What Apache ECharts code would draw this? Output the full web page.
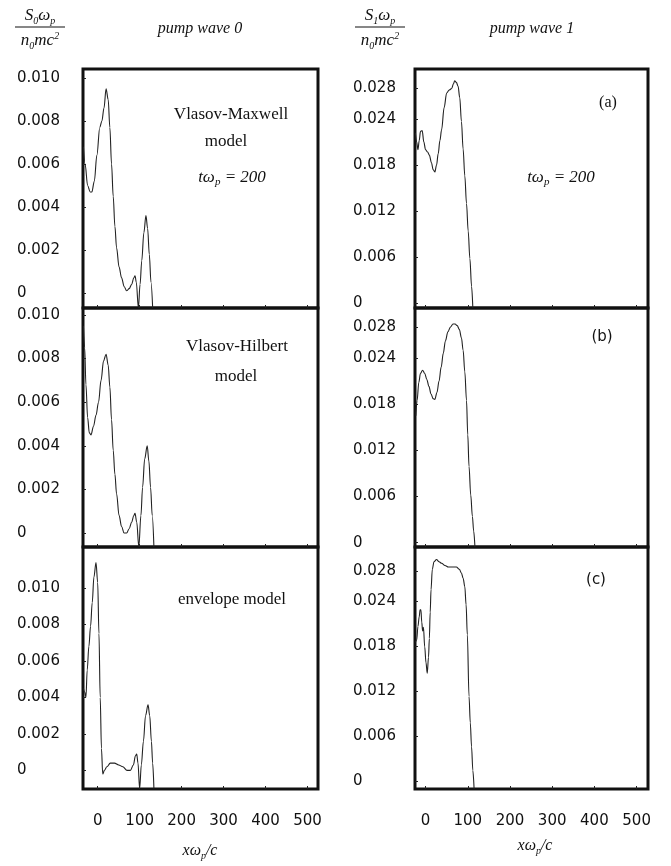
<!DOCTYPE html>
<html><head><meta charset="utf-8">
<script src="https://cdn.jsdelivr.net/npm/echarts@6/dist/echarts.min.js"></script>
<style>html,body{margin:0;padding:0;background:#fff}#c{width:671px;height:866px}</style>
</head><body><div id="c"></div>
<script>
// ---- data ----
// left column: S0 (pump wave 0)
const xL1 = [-34,-30,-24,-18,-14,-8,-2,5,10,15,20,25,29,33,37,41,45,51,57,63,69,75,81,86,89,92,97,101,105,110,115,119,123,127,131];
const yL1 = [0.0068,0.0060,0.0050,0.0047,0.0047,0.0052,0.0064,0.0077,0.0080,0.0086,0.0095,0.0090,0.0077,0.0060,0.0045,0.0031,0.0021,0.0012,0.0007,0.0003,0.0001,0.0002,0.0004,0.0007,0.0008,0.0005,-0.0007,0.0004,0.0015,0.0028,0.0036,0.0030,0.0018,0.0005,-0.0007];
const xL2 = [-34,-31,-28,-24,-20,-16,-10,-4,2,8,14,20,25,29,33,37,41,45,51,57,63,69,75,81,86,89,93,98,103,107,112,118,122,126,130,134];
const yL2 = [0.0095,0.0085,0.0068,0.0053,0.0046,0.0045,0.0049,0.0054,0.0060,0.0070,0.0079,0.0082,0.0077,0.0067,0.0052,0.0038,0.0027,0.0018,0.0008,0.0003,0.0000,0.0000,0.0002,0.0005,0.0008,0.0009,0.0005,-0.00064,0.0008,0.0021,0.0034,0.0040,0.0033,0.0021,0.0008,-0.00064];
const xL3 = [-34,-31,-28,-25,-21,-17,-13,-9,-4,0,3,6,9,12,16,22,30,40,50,60,70,78,85,90,93,96,100,104,109,114,120,124,128,131,134];
const yL3 = [0.0045,0.0043,0.0040,0.0055,0.0068,0.0079,0.0092,0.0106,0.0114,0.0103,0.0075,0.0040,0.0012,-0.0002,0.0000,0.0002,0.0004,0.0004,0.0003,0.0002,0.0000,0.0000,0.0003,0.0008,0.0009,0.0004,-0.001,0.0003,0.0016,0.0030,0.0036,0.0030,0.0016,0.0004,-0.001];
// right column: S1 (pump wave 1)
const xR1 = [-24,-21,-18,-15,-12,-8,-4,0,5,9,14,18,22,26,30,34,38,44,50,56,62,66,69,73,77,81,85,89,93,97,101,105,109,112];
const yR1 = [0.0222,0.0210,0.0200,0.0212,0.0224,0.0225,0.0210,0.0200,0.0197,0.0193,0.0183,0.0174,0.0171,0.0180,0.0195,0.0212,0.0226,0.0255,0.0274,0.0278,0.0280,0.0286,0.0290,0.0288,0.0283,0.0268,0.0237,0.0201,0.0166,0.0130,0.0094,0.0058,0.0022,-0.00065];
const xR2 = [-23,-20,-16,-12,-7,-2,3,8,13,18,22,27,32,37,42,47,53,59,65,70,75,80,85,89,93,97,100,103,107,111,114,117];
const yR2 = [0.0165,0.0185,0.0208,0.0220,0.0224,0.0220,0.0212,0.0203,0.0193,0.0187,0.0186,0.0195,0.0210,0.0228,0.0246,0.0262,0.0274,0.0280,0.0284,0.0284,0.0282,0.0277,0.0266,0.0250,0.0222,0.0185,0.0140,0.0099,0.0062,0.0034,0.0015,-0.00057];
const xR3 = [-24,-21,-18,-15,-13,-11,-9,-7,-5,-2,1,4,7,9,11,13,16,20,26,32,38,46,54,64,73,80,85,89,93,96,99,103,106,109,112,115];
const yR3 = [0.0185,0.0188,0.0206,0.0219,0.0228,0.0228,0.0212,0.0200,0.0205,0.0179,0.0158,0.0144,0.0165,0.0190,0.0225,0.0255,0.0282,0.0292,0.0295,0.0292,0.0290,0.0287,0.0285,0.0285,0.0285,0.0282,0.0277,0.0270,0.0259,0.0235,0.0195,0.0113,0.0078,0.0046,0.0015,-0.001];

const xTicks = [0,100,200,300,400,500];
const yTicksLeft = [0,0.002,0.004,0.006,0.008,0.010];
const yTicksRight = [0,0.006,0.012,0.018,0.024,0.028];

// ---- layout ----
const rows = [{top:69,height:239},{top:308,height:239},{top:547,height:242}];
const cols = [{left:83,width:235,xmin:-35,xmax:525,margin:66,ticks:yTicksLeft},
              {left:415,width:233,xmin:-25,xmax:527,margin:62,ticks:yTicksRight}];
const yRanges = [[-0.0007,0.01042],[-0.00064,0.01032],[-0.00102,0.01225],
                 [-0.00065,0.03054],[-0.00057,0.03048],[-0.001,0.03116]];
const seriesData = [[xL1,yL1],[xL2,yL2],[xL3,yL3],[xR1,yR1],[xR2,yR2],[xR3,yR3]];

const grids=[], xAxes=[], yAxes=[], series=[];
for (let c=0;c<2;c++){
  for (let r=0;r<3;r++){
    const i=c*3+r, col=cols[c], row=rows[r];
    grids.push({left:col.left,width:col.width,top:row.top,height:row.height,show:true,
      borderColor:'#111',borderWidth:3,backgroundColor:'transparent'});
    xAxes.push({gridIndex:i,type:'value',min:col.xmin,max:col.xmax,position:'bottom',
      axisLine:{show:false,onZero:false},splitLine:{show:false},
      axisTick:{show:true,inside:true,length:3,customValues:xTicks,lineStyle:{color:'#222'}},
      axisLabel:{show:r===2,customValues:xTicks,margin:25,fontSize:15,color:'#111',
        fontFamily:'DejaVu Sans'}});
    yAxes.push({gridIndex:i,type:'value',min:yRanges[i][0],max:yRanges[i][1],position:'left',
      axisLine:{show:false,onZero:false},splitLine:{show:false},
      axisTick:{show:true,inside:true,length:3,customValues:col.ticks,lineStyle:{color:'#222'}},
      axisLabel:{customValues:col.ticks,align:'left',margin:col.margin,fontSize:15,color:'#111',
        fontFamily:'DejaVu Sans',formatter:v=>v===0?'0':v.toFixed(3)}});
    const [xs,ys]=seriesData[i];
    series.push({type:'line',xAxisIndex:i,yAxisIndex:i,showSymbol:false,smooth:0.35,
      smoothMonotone:'x',silent:true,
      lineStyle:{color:'#222',width:1.1},data:xs.map((x,k)=>[x,ys[k]])});
  }
}

const serif='Liberation Serif, DejaVu Serif, serif';
function txt(x,y,text,opts){
  return Object.assign({type:'text',x:x,y:y,silent:true,
    style:Object.assign({text:text,fill:'#111',font:'17px '+serif,textAlign:'center',textVerticalAlign:'middle'},opts||{})});
}
const richSub = {
  m:{fontSize:17,fontFamily:serif,fontStyle:'italic',lineHeight:20,fill:'#111'},
  s:{fontSize:10,fontFamily:serif,fontStyle:'italic',lineHeight:10,verticalAlign:'bottom',fill:'#111'},
  u:{fontSize:10,fontFamily:serif,fontStyle:'italic',lineHeight:10,verticalAlign:'top',fill:'#111'}
};
function frac(cx,idx){
  return [
    {type:'text',x:cx,y:16,silent:true,style:{text:'{m|S}{s|'+idx+'}{m|ω}{s|p}',rich:richSub,align:'center',verticalAlign:'middle'}},
    {type:'line',silent:true,shape:{x1:cx-25,y1:27,x2:cx+25,y2:27},style:{stroke:'#111',lineWidth:1.2}},
    {type:'text',x:cx,y:41,silent:true,style:{text:'{m|n}{s|0}{m|mc}{u|2}',rich:richSub,align:'center',verticalAlign:'middle'}}
  ];
}
function tw(cx,cy){
  return {type:'text',x:cx,y:cy,silent:true,style:{
    text:'{m|tω}{s|p}{m| = 200}',align:'center',verticalAlign:'middle',
    rich:{m:{fontSize:17,fontFamily:serif,fontStyle:'italic',lineHeight:20,fill:'#111'},
          s:{fontSize:11,fontFamily:serif,fontStyle:'italic',lineHeight:8,verticalAlign:'bottom',fill:'#111'}}}};
}
function xt(cx,cy){
  return {type:'text',x:cx,y:cy,silent:true,style:{
    text:'{m|xω}{s|p}{m|/c}',align:'center',verticalAlign:'middle',
    rich:{m:{fontSize:16,fontFamily:serif,fontStyle:'italic',lineHeight:20,fill:'#111'},
          s:{fontSize:10,fontFamily:serif,fontStyle:'italic',lineHeight:8,verticalAlign:'bottom',fill:'#111'}}}};
}

const graphic = [].concat(
  frac(40,'0'), frac(380,'1'),
  [txt(200,29,'pump wave 0',{font:'italic 16px '+serif}),
   txt(532,29,'pump wave 1',{font:'italic 16px '+serif}),
   txt(231,115,'Vlasov-Maxwell'),
   txt(226,142,'model'),
   tw(232,178),
   txt(237,347,'Vlasov-Hilbert'),
   txt(236,377,'model'),
   txt(232,600,'envelope model'),
   txt(608,103,'(a)',{font:'16px '+serif}),
   tw(561,178),
   txt(602,337,'(b)',{font:'15px DejaVu Sans'}),
   txt(596,580,'(c)',{font:'15px DejaVu Sans'}),
   xt(200,851), xt(535,846)]
);

const chart = echarts.init(document.getElementById('c'));
chart.setOption({animation:false,backgroundColor:'#fff',grid:grids,xAxis:xAxes,yAxis:yAxes,series:series,graphic:graphic});
</script></body></html>
